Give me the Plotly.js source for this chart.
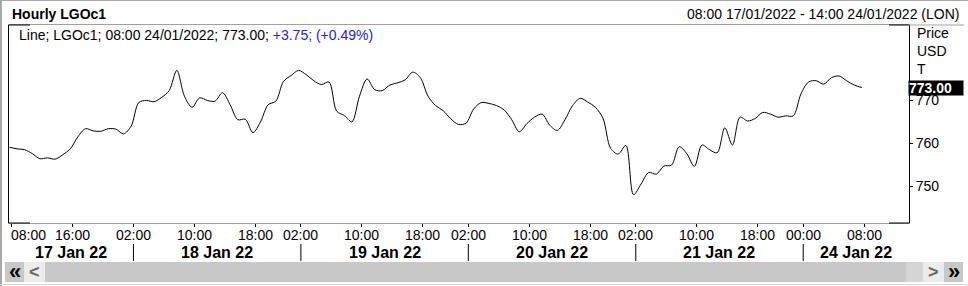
<!DOCTYPE html>
<html>
<head>
<meta charset="utf-8">
<script src="https://cdn.plot.ly/plotly-3.0.1.min.js"></script>
<style>
html,body{margin:0;padding:0;background:#fff;}
#chart{width:968px;height:286px;}
</style>
</head>
<body>
<div id="chart"></div>
<script>
// Hourly LGOc1 closes, one per trading hour, 08:00 17/01/2022 .. 08:00 24/01/2022
const prices = [
  759.1, 758.7, 758.5, 757.6, 756.4, 756.6, 756.3, 757.3, 758.7, 761.5,
  763.4, 762.9, 762.8, 763.4, 763.3, 762.2, 764.0, 769.5, 770.0, 769.7,
  770.7, 772.3, 777.0, 771.0, 768.4, 770.6, 770.0, 769.8, 771.8, 769.0,
  765.5, 765.6, 762.5, 765.0, 769.0, 769.8, 774.4, 775.8, 777.0, 776.0,
  774.6, 773.7, 774.3, 767.5, 766.5, 765.0, 771.0, 775.0, 772.5, 772.3,
  773.6, 774.1, 774.8, 776.6, 775.3, 771.0, 768.8, 767.6, 765.7, 764.4,
  764.7, 768.0, 769.5, 769.3, 768.8, 767.8, 765.5, 762.7, 764.6, 766.1,
  766.8, 764.2, 763.0, 765.5, 768.8, 770.5, 769.6, 768.4, 765.8, 758.8,
  757.5, 759.5, 748.0, 750.5, 753.2, 752.8, 754.7, 754.9, 759.2, 757.6,
  754.6, 759.6, 758.5, 757.8, 763.6, 759.6, 766.1, 765.2, 765.8, 767.2,
  766.8, 766.1, 766.4, 766.4, 771.5, 774.3, 774.6, 773.8, 775.3, 775.7,
  774.6, 773.6, 773.0
];
const steps = prices.map((_, i) => i);

const tickSteps  = [0, 8, 16, 24, 32, 38, 46, 54, 60, 68, 76, 82, 90, 98, 104, 112];
const tickLabels = ["08:00","16:00","02:00","10:00","18:00","02:00","10:00","18:00",
                    "02:00","10:00","18:00","02:00","10:00","18:00","00:00","08:00"];

const dayLabels = ["17 Jan 22","18 Jan 22","19 Jan 22","20 Jan 22","21 Jan 22","24 Jan 22"];
const dayStarts = [0, 16, 38, 60, 82, 104];
const xEnd = 118.2;   // 14:00 24/01/2022
const yTicks = [750, 760, 770];

const lastPrice = "773.00";
const legendMain = "Line; LGOc1; 08:00 24/01/2022; 773.00; ";
const legendChange = "+3.75; (+0.49%)";

const FONT = "Liberation Sans, Arial, sans-serif";
const TICKOFF = 0.3;

// pixel helpers for paper coords (plot area: x 9..909, y 25..223)
const px = v => (v - 9) / 900;
const py = v => (223 - v) / 198;

const shapes = [];
const annotations = [];

// outer frame
shapes.push({type:'line', xref:'paper', yref:'paper', x0:px(1), x1:px(1), y0:py(0), y1:py(286), line:{color:'#a8a8a8', width:2}});
shapes.push({type:'line', xref:'paper', yref:'paper', x0:px(0), x1:px(968), y0:py(0.5), y1:py(0.5), line:{color:'#a8a8a8', width:1}});
shapes.push({type:'line', xref:'paper', yref:'paper', x0:px(0), x1:px(968), y0:py(284.5), y1:py(284.5), line:{color:'#d8d8d8', width:1}});
// header separator extension
shapes.push({type:'line', xref:'paper', yref:'paper', x0:px(909), x1:px(964), y0:1, y1:1, line:{color:'#a0a0a0', width:1}});
// black corner segments on top/bottom frame
[[9,30],[889,909]].forEach(([a,b]) => {
  shapes.push({type:'line', xref:'paper', yref:'paper', x0:px(a), x1:px(b), y0:1, y1:1, line:{color:'#000', width:1}});
  shapes.push({type:'line', xref:'paper', yref:'paper', x0:px(a), x1:px(b), y0:0, y1:0, line:{color:'#000', width:1}});
});

// hour tick labels
tickSteps.forEach((s, i) => {
  const first = (i === 0);
  annotations.push({xref: first ? 'paper' : 'x', yref:'paper', x: first ? px(9) : s + TICKOFF, y:py(235),
    text:tickLabels[i], showarrow:false, xanchor: first ? 'left' : 'center', yanchor:'middle',
    font:{family:FONT, size:14, color:'#000'}});
});

// day separators and day labels
for (let i = 0; i < dayStarts.length; i++) {
  const s = dayStarts[i];
  if (i > 0) {
    shapes.push({type:'line', xref:'x', yref:'paper', x0:s+TICKOFF, x1:s+TICKOFF, y0:py(244), y1:py(261), line:{color:'#000', width:1}});
  }
  const a = (i === 0) ? -0.05 : s + TICKOFF;
  const b = (i === dayStarts.length - 1) ? xEnd : dayStarts[i+1] + TICKOFF;
  annotations.push({xref:'x', yref:'paper', x:(a+b)/2, y:py(252.5), text:'<b>'+dayLabels[i]+'</b>', showarrow:false,
    xanchor:'center', yanchor:'middle', font:{family:FONT, size:16, color:'#000'}});
}

// scrollbar
const sbTop = py(262), sbBot = py(282);
[[5,24,'#c8c8c8'],[24,45,'#ececec'],[45,906,'#c8c8c8'],[906,923,'#d6d6d6'],[923,944,'#ececec'],[944,963,'#c8c8c8']].forEach(([a,b,c]) => {
  shapes.push({type:'rect', xref:'paper', yref:'paper', x0:px(a), x1:px(b), y0:sbTop, y1:sbBot, fillcolor:c, line:{width:0}, layer:'below'});
});
[['<b>«</b>',14.5,22,'#000'],['<b>&lt;</b>',34,18,'#666'],['<b>&gt;</b>',933,18,'#666'],['<b>»</b>',953.5,22,'#000']].forEach(([t,x,sz,c]) => {
  annotations.push({xref:'paper', yref:'paper', x:px(x), y:py(271.5), text:t, showarrow:false,
    xanchor:'center', yanchor:'middle', font:{family:FONT, size:sz, color:c}});
});

// header texts
annotations.push({xref:'paper', yref:'paper', x:px(10), y:py(14), text:'<b>Hourly LGOc1</b>', showarrow:false,
  xanchor:'left', yanchor:'middle', font:{family:FONT, size:14, color:'#000'}});
annotations.push({xref:'paper', yref:'paper', x:px(961), y:py(14), text:'08:00 17/01/2022 - 14:00 24/01/2022 (LON)', showarrow:false,
  xanchor:'right', yanchor:'middle', font:{family:FONT, size:14, color:'#000'}});
annotations.push({xref:'paper', yref:'paper', x:px(17), y:py(35), text:legendMain + '<span style="color:#2323e8">' + legendChange + '</span>', showarrow:false,
  xanchor:'left', yanchor:'middle', font:{family:FONT, size:14, color:'#000'}});

// right axis header
[['Price',33],['USD',51],['T',69]].forEach(([t,y]) => {
  annotations.push({xref:'paper', yref:'paper', x:px(915), y:py(y), text:t, showarrow:false,
    xanchor:'left', yanchor:'middle', font:{family:FONT, size:14, color:'#000'}});
});
// last price tag
annotations.push({xref:'paper', yref:'y', x:px(908), y:prices[prices.length-1], text:'<b>'+lastPrice+'</b>', showarrow:false,
  xanchor:'left', yanchor:'middle', bgcolor:'#000', borderpad:0, width:54, height:14, align:'left',
  font:{family:FONT, size:14, color:'#fff'}});

const trace = {
  x: steps, y: prices, type:'scatter', mode:'lines',
  line:{color:'#000', width:1, shape:'spline', smoothing:0.9},
  hoverinfo:'skip'
};

const layout = {
  width:968, height:286,
  margin:{l:9, r:59, t:25, b:63, pad:0},
  paper_bgcolor:'#fff', plot_bgcolor:'#fff',
  showlegend:false,
  xaxis:{
    range:[-0.05, xEnd], fixedrange:true,
    tickmode:'array', tickvals:tickSteps.map(s => s + TICKOFF), ticktext:tickLabels,
    showticklabels:false,
    ticks:'outside', ticklen:3, tickcolor:'#000', tickwidth:1,
    showgrid:false, zeroline:false,
    showline:true, linecolor:'#a0a0a0', linewidth:1, mirror:true
  },
  yaxis:{
    range:[741.4, 787.6], side:'right', fixedrange:true,
    tickmode:'array', tickvals:yTicks, ticktext:yTicks.map(String),
    ticks:'outside', ticklen:3, tickcolor:'#000', tickwidth:1,
    showgrid:false, zeroline:false,
    showline:true, linecolor:'#000', linewidth:1, mirror:true,
    tickfont:{family:FONT, size:14, color:'#000'}
  },
  shapes: shapes,
  annotations: annotations
};

Plotly.newPlot('chart', [trace], layout, {staticPlot:true, displayModeBar:false});
</script>
</body>
</html>
